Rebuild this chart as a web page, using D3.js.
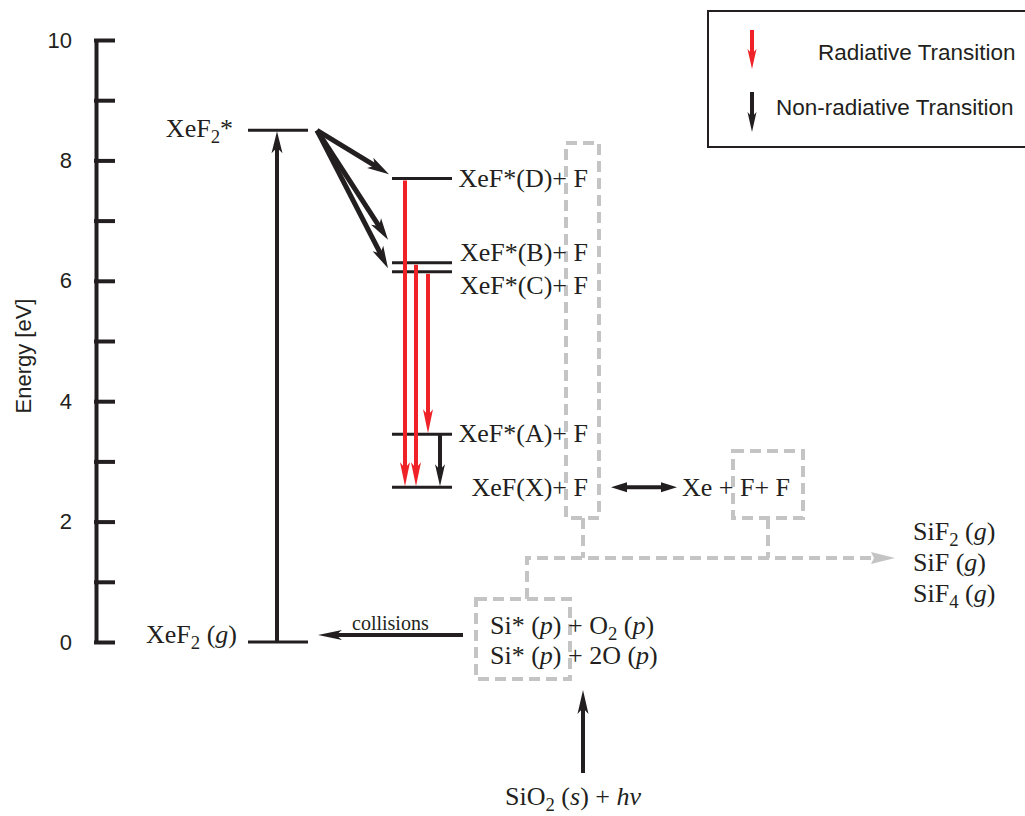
<!doctype html>
<html>
<head>
<meta charset="utf-8">
<script src="https://d3js.org/d3.v7.min.js"></script>
<style>
  body { margin: 0; background: #fff; }
  svg { display: block; }
  .serif { font-family: "Liberation Serif", "Times New Roman", serif; fill: #231f20; }
  .sans { font-family: "Liberation Sans", Arial, sans-serif; fill: #231f20; }
</style>
</head>
<body>
<svg id="chart" width="1025" height="816"></svg>
<script>
// energy axis
var energyTicks = [0, 1, 2, 3, 4, 5, 6, 7, 8, 9, 10];
var energyLabels = ["0", "", "2", "", "4", "", "6", "", "8", "", "10"];

// energy levels [eV]
var levelIds = ["XeF2s", "XeF2g", "D", "B", "C", "A", "X"];
var levelEnergy = [8.5, 0, 7.7, 6.3, 6.15, 3.45, 2.57];

// radiative transitions (red) and non-radiative (black)
var radFrom = ["D", "B", "C"];
var radTo = ["X", "X", "A"];
var nonRadFrom = ["A"];
var nonRadTo = ["X"];

// relaxation arrows out of XeF2*, end energies
var relaxEnd = [7.77, 6.68, 6.21];

var legendNames = ["Radiative Transition", "Non-radiative Transition"];

var RED = "#ee2227", BLACK = "#231f20", GREY = "#c4c4c4";

var svg = d3.select("#chart");
var y = d3.scaleLinear().domain([0, 10]).range([642, 40]);
var E = {};
levelIds.forEach(function (id, i) { E[id] = levelEnergy[i]; });

// column layout (pixels)
var col = {
    axis: 96,
    groundL: 248, groundR: 308, groundMid: 277,
    xefL: 392, xefR: 452,
    labelEnd: 588,
    rad: [405, 416, 428],
    nonRad: [440]
};

// arrow: line + filled head
function arrow(g, x1, y1, x2, y2, color, w, hl, hw) {
    var dx = x2 - x1, dy = y2 - y1, len = Math.sqrt(dx * dx + dy * dy);
    var ux = dx / len, uy = dy / len;
    var bx = x2 - ux * hl, by = y2 - uy * hl;
    g.append("line")
        .attr("x1", x1).attr("y1", y1)
        .attr("x2", x2 - ux * hl * 0.6).attr("y2", y2 - uy * hl * 0.6)
        .attr("stroke", color).attr("stroke-width", w);
    g.append("path")
        .attr("d", "M" + x2 + "," + y2 +
            "L" + (bx - uy * hw / 2) + "," + (by + ux * hw / 2) +
            "L" + (x2 - ux * hl * 0.75) + "," + (y2 - uy * hl * 0.75) +
            "L" + (bx + uy * hw / 2) + "," + (by - ux * hw / 2) + "Z")
        .attr("fill", color);
}

// rich text: parts [{t, sub, i}]
function rich(x, yy, parts, size, anchor, cls) {
    var t = svg.append("text").attr("class", cls || "serif")
        .attr("x", x).attr("y", yy)
        .attr("font-size", size)
        .attr("text-anchor", anchor || "start");
    var down = false;
    parts.forEach(function (p) {
        var s = t.append("tspan").text(p.t);
        if (p.sub) { s.attr("font-size", size * 0.72).attr("dy", 6); down = true; }
        else if (down) { s.attr("dy", -6); down = false; }
        if (p.i) s.attr("font-style", "italic");
    });
    return t;
}

// ---- axis
var axis = d3.axisLeft(y)
    .tickValues(energyTicks)
    .tickSize(-19)
    .tickSizeOuter(0)
    .tickPadding(24)
    .tickFormat(function (d, i) { return energyLabels[i]; });
var ag = svg.append("g").attr("transform", "translate(" + col.axis + ",0)").call(axis);
ag.select(".domain").attr("stroke", BLACK).attr("stroke-width", 4);
ag.selectAll(".tick line").attr("stroke", BLACK).attr("stroke-width", 4).attr("x1", -2);
ag.selectAll(".tick text")
    .attr("font-family", "Liberation Sans, Arial, sans-serif")
    .attr("font-size", 22).attr("fill", BLACK);

svg.append("text").attr("class", "sans")
    .attr("transform", "translate(31,356) rotate(-90)")
    .attr("text-anchor", "middle")
    .attr("font-size", 22)
    .text("Energy [eV]");

// ---- dashed grey boxes and connectors (behind)
var dg = svg.append("g").attr("fill", "none").attr("stroke", GREY)
    .attr("stroke-width", 4).attr("stroke-dasharray", "11,6");
dg.append("rect").attr("x", 566).attr("y", 143).attr("width", 33).attr("height", 375);
dg.append("rect").attr("x", 733).attr("y", 451).attr("width", 70).attr("height", 67);
dg.append("rect").attr("x", 476).attr("y", 599).attr("width", 94).attr("height", 80);
dg.append("path").attr("d", "M583,518V558M768,518V558M527,599V558H878");
svg.append("path").attr("d", "M895,558L871,552L874,558L871,564Z").attr("fill", GREY);

// ---- levels
var lv = svg.append("g").attr("stroke", BLACK).attr("stroke-width", 3);
["XeF2s", "XeF2g"].forEach(function (id) {
    lv.append("line").attr("x1", col.groundL).attr("x2", col.groundR)
        .attr("y1", y(E[id])).attr("y2", y(E[id]));
});
["D", "B", "C", "A", "X"].forEach(function (id) {
    lv.append("line").attr("x1", col.xefL).attr("x2", col.xefR)
        .attr("y1", y(E[id])).attr("y2", y(E[id]));
});

// ---- excitation arrow
var ar = svg.append("g");
arrow(ar, col.groundMid, y(E.XeF2g), col.groundMid, y(E.XeF2s) + 1, BLACK, 4, 22, 11);

// relaxation from XeF2*
var relaxStart = [317, y(E.XeF2s)];
var relaxX = [389, 388, 388];
relaxEnd.forEach(function (e, i) {
    arrow(ar, relaxStart[0], relaxStart[1], relaxX[i], y(e), BLACK, 5, 22, 12);
});

// radiative
radFrom.forEach(function (f, i) {
    arrow(ar, col.rad[i], y(E[f]) + 2, col.rad[i], y(E[radTo[i]]) - 1, RED, 4, 24, 10);
});
// non-radiative
nonRadFrom.forEach(function (f, i) {
    arrow(ar, col.nonRad[i], y(E[f]), col.nonRad[i], y(E[nonRadTo[i]]) - 1, BLACK, 4, 22, 10);
});

// double arrow XeF(X)+F <-> Xe+F+F
var dy2 = y(E.X);
ar.append("line").attr("x1", 620).attr("x2", 668).attr("y1", dy2).attr("y2", dy2)
    .attr("stroke", BLACK).attr("stroke-width", 4);
ar.append("path").attr("d", "M611," + dy2 + "L627," + (dy2 - 5) + "L627," + (dy2 + 5) + "Z").attr("fill", BLACK);
ar.append("path").attr("d", "M677," + dy2 + "L661," + (dy2 - 5) + "L661," + (dy2 + 5) + "Z").attr("fill", BLACK);

// collisions arrow
arrow(ar, 463, 635, 318, 635, BLACK, 4, 24, 10);
// photon arrow
arrow(ar, 583, 773, 583, 690, BLACK, 4, 24, 11);

// ---- labels
rich(233, 137, [{ t: "XeF" }, { t: "2", sub: true }, { t: "*" }], 26, "end");
rich(237, 643, [{ t: "XeF" }, { t: "2", sub: true }, { t: " (" }, { t: "g", i: true }, { t: ")" }], 26, "end");
var xefLabels = { D: "XeF*(D)+ F", B: "XeF*(B)+ F", C: "XeF*(C)+ F", A: "XeF*(A)+ F", X: "XeF(X)+ F" };
var xefBase = { D: 187, B: 261, C: 294, A: 442, X: 496 };
Object.keys(xefLabels).forEach(function (k) {
    rich(col.labelEnd, xefBase[k], [{ t: xefLabels[k] }], 26, "end");
});
rich(682, 496, [{ t: "Xe + F+ F" }], 26);
rich(352, 630, [{ t: "collisions" }], 20);
rich(490, 634, [{ t: "Si* (" }, { t: "p", i: true }, { t: ") + O" }, { t: "2", sub: true }, { t: " (" }, { t: "p", i: true }, { t: ")" }], 26);
rich(490, 664, [{ t: "Si* (" }, { t: "p", i: true }, { t: ") + 2O (" }, { t: "p", i: true }, { t: ")" }], 26);
rich(505, 805, [{ t: "SiO" }, { t: "2", sub: true }, { t: " (" }, { t: "s", i: true }, { t: ") + " }, { t: "hν", i: true }], 26);
rich(913, 540, [{ t: "SiF" }, { t: "2", sub: true }, { t: " (" }, { t: "g", i: true }, { t: ")" }], 26);
rich(913, 571, [{ t: "SiF (" }, { t: "g", i: true }, { t: ")" }], 26);
rich(913, 602, [{ t: "SiF" }, { t: "4", sub: true }, { t: " (" }, { t: "g", i: true }, { t: ")" }], 26);

// ---- legend
var lg = svg.append("g");
lg.append("rect").attr("x", 708).attr("y", 11).attr("width", 330).attr("height", 136)
    .attr("fill", "none").attr("stroke", BLACK).attr("stroke-width", 2);
arrow(lg, 752, 30, 752, 69, RED, 4, 20, 9);
arrow(lg, 752, 92, 752, 132, BLACK, 4, 20, 9);
lg.append("text").attr("class", "sans").attr("x", 818).attr("y", 60)
    .attr("font-size", 22.5).text(legendNames[0]);
lg.append("text").attr("class", "sans").attr("x", 776).attr("y", 115)
    .attr("font-size", 22.5).text(legendNames[1]);
</script>
</body>
</html>
